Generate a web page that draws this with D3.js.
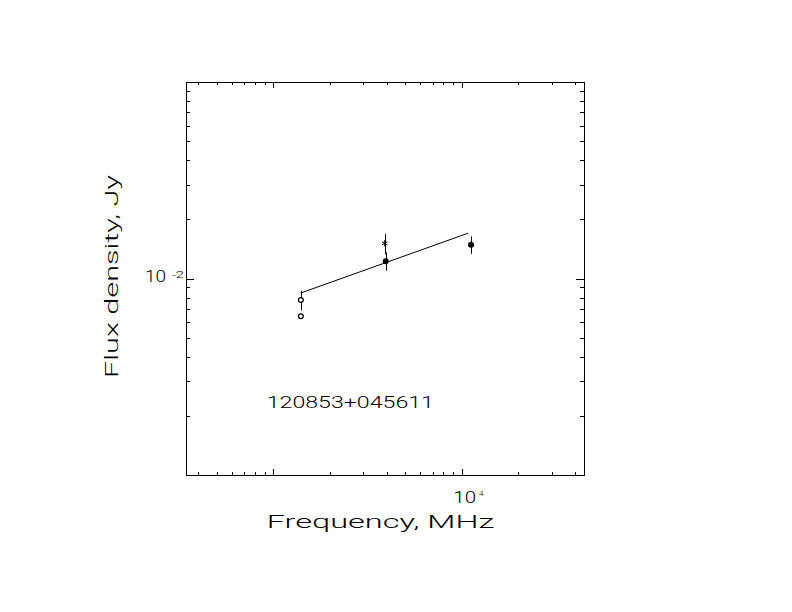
<!DOCTYPE html>
<html>
<head>
<meta charset="utf-8">
<script src="https://cdn.jsdelivr.net/npm/d3@7"></script>
<style>
  html, body { margin: 0; padding: 0; background: #fff; }
  svg { display: block; }
  text { font-family: Roboto, "DejaVu Sans", sans-serif; font-weight: 300; fill: #000; }
</style>
</head>
<body>
<svg id="chart" width="792" height="612"></svg>
<script>
// ---- data ----
const sourceName = "120853+045611";
const xAxisLabel = "Frequency, MHz";
const yAxisLabel = "Flux density, Jy";

const pointFreq   = [1400,    1400,    3900,   3950,    11200];
const pointFlux   = [0.00777, 0.00643, 0.0151, 0.01225, 0.01486];
const pointErr    = [0.00090, 0,       0.0018, 0.0013,  0.0015];
const pointMarker = ["open",  "open",  "star", "filled", "filled"];

const fitFreq = [1400, 10800];
const fitFlux = [0.00844, 0.0170];

const xDomain = [344, 44570];
const yDomain = [0.001, 0.1];
const xMajorTicks = [1000, 10000];
const xMinorTicks = [400, 500, 600, 700, 800, 900, 2000, 3000, 4000, 5000, 6000, 7000, 8000, 9000, 20000, 30000, 40000];
const yMajorTicks = [0.001, 0.01, 0.1];
const yMinorTicks = [0.002, 0.003, 0.004, 0.005, 0.006, 0.007, 0.008, 0.009, 0.02, 0.03, 0.04, 0.05, 0.06, 0.07, 0.08, 0.09];
const xTickLabels = [{value: 10000, base: "10", exp: "4"}];
const yTickLabels = [{value: 0.01, base: "10", exp: "-2"}];

// ---- layout ----
const L = 186, R = 584, T = 82, B = 475;
const svg = d3.select("#chart");
const x = d3.scaleLog().domain(xDomain).range([L, R]);
const y = d3.scaleLog().domain(yDomain).range([B, T]);

const axesG = svg.append("g").attr("shape-rendering", "crispEdges");
function addAxis(gen, tr, vals, size) {
  const g = axesG.append("g").attr("transform", tr)
    .call(gen.tickValues(vals).tickSizeInner(-size).tickSizeOuter(0).tickFormat(""));
  g.select(".domain").remove();
  g.selectAll("line").attr("stroke", "#000").attr("stroke-width", 1);
}
addAxis(d3.axisBottom(x), `translate(0,${B})`, xMinorTicks, 3);
addAxis(d3.axisBottom(x), `translate(0,${B})`, xMajorTicks, 6);
addAxis(d3.axisTop(x),    `translate(0,${T})`, xMinorTicks, 3);
addAxis(d3.axisTop(x),    `translate(0,${T})`, xMajorTicks, 6);
addAxis(d3.axisLeft(y),   `translate(${L},0)`, yMinorTicks, 4);
addAxis(d3.axisLeft(y),   `translate(${L},0)`, yMajorTicks, 8);
addAxis(d3.axisRight(y),  `translate(${R},0)`, yMinorTicks, 4);
addAxis(d3.axisRight(y),  `translate(${R},0)`, yMajorTicks, 8);

axesG.append("rect")
  .attr("x", L + 0.5).attr("y", T + 0.5)
  .attr("width", R - L).attr("height", B - T)
  .attr("fill", "none").attr("stroke", "#000").attr("stroke-width", 1);

// tick labels
xTickLabels.forEach(d => {
  const cx = x(d.value);
  svg.append("text").attr("x", cx - 8.4).attr("y", 503.3)
    .attr("font-size", 17).attr("textLength", 22.7).attr("lengthAdjust", "spacingAndGlyphs")
    .text(d.base);
  svg.append("text").attr("x", cx + 17.3).attr("y", 496.2)
    .attr("font-size", 8).text(d.exp);
});
yTickLabels.forEach(d => {
  const cy = y(d.value);
  svg.append("text").attr("x", 145).attr("y", cy + 3.9)
    .attr("font-size", 17).attr("textLength", 21).attr("lengthAdjust", "spacingAndGlyphs")
    .text(d.base);
  svg.append("text").attr("x", 171.7).attr("y", cy - 0.5)
    .attr("font-size", 8.5).attr("textLength", 12.3).attr("lengthAdjust", "spacingAndGlyphs")
    .text(d.exp);
});

// axis titles
svg.append("text").attr("x", 380.5).attr("y", 528.3)
  .attr("text-anchor", "middle").attr("font-size", 17.5)
  .attr("textLength", 227.6).attr("lengthAdjust", "spacingAndGlyphs")
  .text(xAxisLabel);
svg.append("text").attr("transform", "translate(118,276.5) rotate(-90)")
  .attr("text-anchor", "middle").attr("font-size", 17.5)
  .attr("textLength", 203).attr("lengthAdjust", "spacingAndGlyphs")
  .text(yAxisLabel);

// source name
svg.append("text").attr("x", 266.7).attr("y", 408.3)
  .attr("font-size", 16).attr("textLength", 167.3).attr("lengthAdjust", "spacingAndGlyphs")
  .text(sourceName);

// fit line
const line = d3.line().x(d => x(d[0])).y(d => y(d[1]));
svg.append("path").datum(d3.zip(fitFreq, fitFlux))
  .attr("d", line).attr("fill", "none").attr("stroke", "#000").attr("stroke-width", 1);

// points
const pts = d3.range(pointFreq.length).map(i => ({
  f: pointFreq[i], s: pointFlux[i], e: pointErr[i], m: pointMarker[i]
}));
const pg = svg.append("g");
pts.filter(d => d.e > 0).forEach(d => {
  pg.append("line")
    .attr("x1", Math.round(x(d.f)) + 0.5).attr("x2", Math.round(x(d.f)) + 0.5)
    .attr("y1", y(d.s + d.e)).attr("y2", y(d.s - d.e))
    .attr("stroke", "#000").attr("stroke-width", 1);
});
pts.forEach(d => {
  const cx = x(d.f), cy = y(d.s);
  if (d.m === "open") {
    pg.append("circle").attr("cx", cx).attr("cy", cy).attr("r", 2.4)
      .attr("fill", "#fff").attr("stroke", "#000").attr("stroke-width", 1.3);
  } else if (d.m === "filled") {
    pg.append("circle").attr("cx", cx).attr("cy", cy).attr("r", 3)
      .attr("fill", "#000");
  } else {
    pg.append("path")
      .attr("d", d3.symbol().type(d3.symbolAsterisk).size(28)())
      .attr("transform", `translate(${cx},${cy})`)
      .attr("fill", "none").attr("stroke", "#000").attr("stroke-width", 1);
  }
});
</script>
</body>
</html>
